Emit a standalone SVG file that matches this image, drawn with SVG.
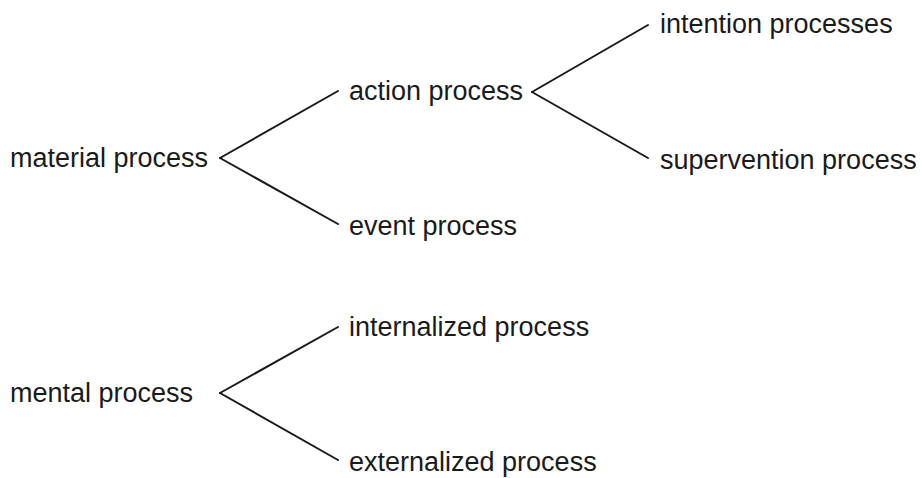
<svg xmlns="http://www.w3.org/2000/svg" width="922" height="478" viewBox="0 0 922 478">
<style>
text{font-family:"Liberation Sans",Arial,sans-serif;font-size:27px;fill:#1a1a1a}
.c line{stroke:#1a1a1a;stroke-width:2;stroke-linecap:round}
</style>
<rect width="922" height="478" fill="#fff"/>
<g class="c" id="connectors">
<line x1="220" y1="158" x2="338" y2="91"/>
<line x1="220" y1="158" x2="338" y2="224"/>
<line x1="532" y1="92" x2="648" y2="25"/>
<line x1="532" y1="92" x2="648" y2="158"/>
<line x1="220" y1="393" x2="338" y2="327"/>
<line x1="220" y1="393" x2="338" y2="460"/>
</g>
<g id="material"><text x="10" y="167">material process</text></g>
<g id="action"><text x="349" y="100">action process</text></g>
<g id="event"><text x="349" y="235">event process</text></g>
<g id="intention"><text x="660" y="33">intention processes</text></g>
<g id="supervention"><text x="660" y="169">supervention process</text></g>
<g id="mental"><text x="10" y="402">mental process</text></g>
<g id="internalized"><text x="349" y="336">internalized process</text></g>
<g id="externalized"><text x="349" y="471">externalized process</text></g>
</svg>
